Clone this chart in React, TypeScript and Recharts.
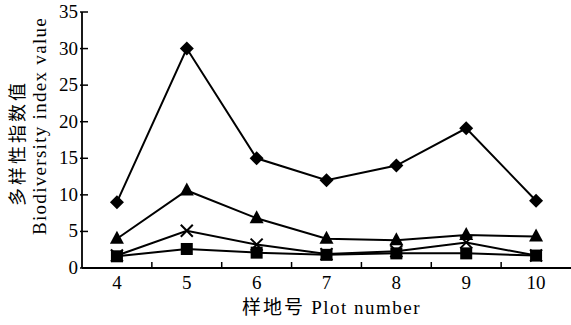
import React from 'react';
import { LineChart, Line, XAxis, YAxis } from 'recharts';

const plots = [4, 5, 6, 7, 8, 9, 10];
const diamondSeries = [9, 30, 15, 12, 14, 19.1, 9.2];
const triangleSeries = [4, 10.6, 6.8, 4, 3.8, 4.5, 4.3];
const crossSeries = [1.7, 5.1, 3.2, 1.9, 2.3, 3.5, 1.7];
const squareSeries = [1.6, 2.6, 2.1, 1.8, 2.0, 2.0, 1.7];
const yTicks = [0, 5, 10, 15, 20, 25, 30, 35];

const data = plots.map((p, i) => ({
  plot: p,
  diamond: diamondSeries[i],
  triangle: triangleSeries[i],
  cross: crossSeries[i],
  square: squareSeries[i],
}));

// labels at the plot numbers, small inward tick marks between them
const xTicks = plots.flatMap((p, i) => (i < plots.length - 1 ? [p, p + 0.5] : [p]));

const SERIF = '"Liberation Serif", "DejaVu Serif", serif';
const CJK = '"Noto Sans CJK SC", sans-serif';

const Diamond = ({ cx, cy }: any) => (
  <polygon points={`${cx},${cy - 7} ${cx + 7},${cy} ${cx},${cy + 7} ${cx - 7},${cy}`} fill="#000" />
);
const Triangle = ({ cx, cy }: any) => (
  <polygon points={`${cx},${cy - 8} ${cx + 7},${cy + 5} ${cx - 7},${cy + 5}`} fill="#000" />
);
const Square = ({ cx, cy }: any) => <rect x={cx - 6} y={cy - 6} width={12} height={12} fill="#000" />;
const Cross = ({ cx, cy }: any) => (
  <g stroke="#000" strokeWidth={2}>
    <line x1={cx - 6} y1={cy - 6} x2={cx + 6} y2={cy + 6} />
    <line x1={cx - 6} y1={cy + 6} x2={cx + 6} y2={cy - 6} />
  </g>
);

const XTick = ({ x, y, payload }: any) => {
  if (Number.isInteger(payload.value)) {
    return (
      <text x={x} y={y + 21} textAnchor="middle" fontFamily={SERIF} fontSize={19} fill="#000">
        {payload.value}
      </text>
    );
  }
  return <line x1={x} x2={x} y1={y} y2={y - 6} stroke="#000" strokeWidth={1.5} />;
};

const YTick = ({ x, y, payload }: any) => (
  <g>
    <line x1={x - 2} x2={x + 6} y1={y} y2={y} stroke="#000" strokeWidth={1.5} />
    <text x={x - 4} y={y + 6} textAnchor="end" fontFamily={SERIF} fontSize={19} fill="#000">
      {payload.value}
    </text>
  </g>
);

const YLabel = ({ viewBox }: any) => {
  const cy = viewBox.y + viewBox.height / 2;
  return (
    <g>
      <text
        transform={`translate(24, ${cy + 3}) rotate(-90)`}
        textAnchor="middle"
        fontFamily={CJK}
        fontSize={18}
        letterSpacing={3}
        fill="#000"
      >
        多样性指数值
      </text>
      <text
        transform={`translate(46, ${cy - 14}) rotate(-90)`}
        textAnchor="middle"
        fontFamily={SERIF}
        fontSize={19}
        letterSpacing={1.3}
        fill="#000"
      >
        Biodiversity index value
      </text>
    </g>
  );
};

const XLabel = ({ viewBox }: any) => (
  <text x={viewBox.x + viewBox.width / 2 + 5} y={viewBox.y + 46} textAnchor="middle" fill="#000" fontSize={19}>
    <tspan fontFamily={CJK} letterSpacing={2}>样地号 </tspan>
    <tspan fontFamily={SERIF} letterSpacing={1.5}>Plot number</tspan>
  </text>
);

export default function App() {
  return (
    <div style={{ position: 'absolute', left: 0, top: 0, width: 571, height: 325, background: '#fff' }}>
      <LineChart width={571} height={325} data={data} margin={{ top: 12, right: 0, bottom: 0, left: 0 }}>
        <XAxis
          dataKey="plot"
          type="number"
          domain={[3.5, 10.5]}
          ticks={xTicks}
          interval={0}
          tickSize={0}
          tickMargin={0}
          tickLine={false}
          tick={<XTick />}
          height={57}
          axisLine={{ stroke: '#000', strokeWidth: 1.8 }}
          label={<XLabel />}
        />
        <YAxis
          domain={[0, 35]}
          ticks={yTicks}
          interval={0}
          width={82}
          tickSize={0}
          tickMargin={0}
          tickLine={false}
          tick={<YTick />}
          axisLine={{ stroke: '#000', strokeWidth: 1.8 }}
          label={<YLabel />}
        />
        <Line dataKey="diamond" stroke="#000" strokeWidth={2} dot={<Diamond />} isAnimationActive={false} />
        <Line dataKey="triangle" stroke="#000" strokeWidth={2} dot={<Triangle />} isAnimationActive={false} />
        <Line dataKey="cross" stroke="#000" strokeWidth={2} dot={<Cross />} isAnimationActive={false} />
        <Line dataKey="square" stroke="#000" strokeWidth={2} dot={<Square />} isAnimationActive={false} />
      </LineChart>
    </div>
  );
}
